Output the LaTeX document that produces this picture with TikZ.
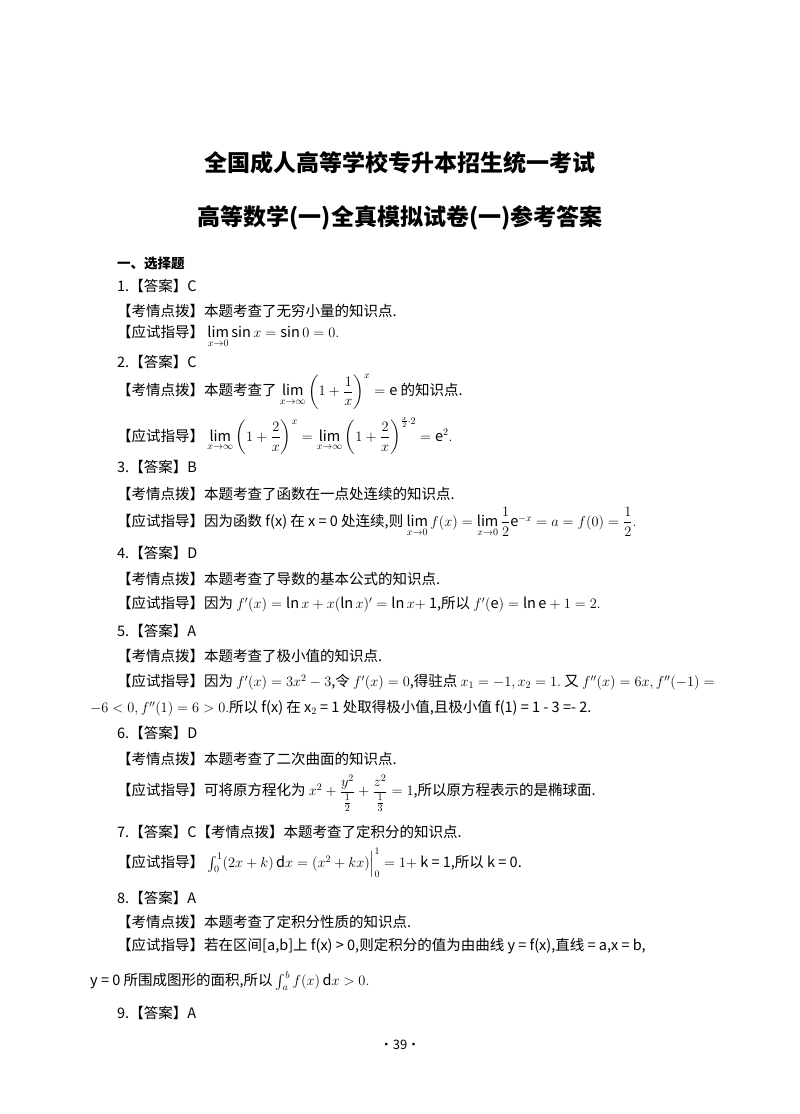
\documentclass[tikz,border=0pt]{standalone}
\usepackage{fontspec}
\usepackage{amsmath}
\setmainfont{Noto Sans CJK SC}
\begin{document}
\begin{tikzpicture}[x=1pt,y=-1pt,
  t/.style={anchor=west,inner sep=0pt,font=\fontsize{14.5}{16}\selectfont},
  h/.style={anchor=center,inner sep=0pt,font=\fontsize{23}{26}\selectfont\bfseries}]
\useasboundingbox[fill=white] (0,0) rectangle (800,1114);
\node[h] (t1) at (400,163) {全国成人高等学校专升本招生统一考试};
\node[h] (t2) at (400,218) {高等数学(一)全真模拟试卷(一)参考答案};
\node[t,font=\fontsize{13.5}{15}\selectfont\bfseries] (s) at (117,263) {一、选择题};
\node[t] (a1) at (117,286) {1.【答案】C};
\node[t] (b1) at (117,311) {【考情点拨】本题考查了无穷小量的知识点.};
\node[t] (c1) at (117,337) {【应试指导】 $\lim\limits_{x\to0}\sin x=\sin0=0.$};
\node[t] (a2) at (117,362) {2.【答案】C};
\node[t] (b2) at (117,392) {【考情点拨】本题考查了 $\lim\limits_{x\to\infty}\left(1+\dfrac1x\right)^x=\mathrm e$ 的知识点.};
\node[t] (c2) at (117,436) {【应试指导】 $\lim\limits_{x\to\infty}\left(1+\dfrac2x\right)^x=\lim\limits_{x\to\infty}\left(1+\dfrac2x\right)^{\frac x2\cdot2}=\mathrm e^2.$};
\node[t] (a3) at (117,467) {3.【答案】B};
\node[t] (b3) at (117,494) {【考情点拨】本题考查了函数在一点处连续的知识点.};
\node[t] (c3) at (117,522) {【应试指导】因为函数 f(x) 在 x = 0 处连续,则 $\lim\limits_{x\to0}f(x)=\lim\limits_{x\to0}\dfrac12\mathrm e^{-x}=a=f(0)=\dfrac12.$};
\node[t] (a4) at (117,553) {4.【答案】D};
\node[t] (b4) at (117,579) {【考情点拨】本题考查了导数的基本公式的知识点.};
\node[t] (c4) at (117,604) {【应试指导】因为 $f'(x)=\ln x+x(\ln x)'=\ln x+$ 1,所以 $f'(\mathrm e)=\ln\mathrm e+1=2.$};
\node[t] (a5) at (117,631) {5.【答案】A};
\node[t] (b5) at (117,656) {【考情点拨】本题考查了极小值的知识点.};
\node[t] (c5) at (117,682) {【应试指导】因为 $f'(x)=3x^2-3$,令 $f'(x)=0$,得驻点 $x_1=-1,x_2=1.$ 又 $f''(x)=6x,f''(-1)=$};
\node[t] (d5) at (90,708) {$-6<0,f''(1)=6>0.$所以 f(x) 在 x$_2$ = 1 处取得极小值,且极小值 f(1) = 1 - 3 =- 2.};
\node[t] (a6) at (117,733) {6.【答案】D};
\node[t] (b6) at (117,759) {【考情点拨】本题考查了二次曲面的知识点.};
\node[t] (c6) at (117,793) {【应试指导】可将原方程化为 $x^2+\dfrac{y^2}{\frac12}+\dfrac{z^2}{\frac13}=1$,所以原方程表示的是椭球面.};
\node[t] (a7) at (117,832) {7.【答案】C【考情点拨】本题考查了定积分的知识点.};
\node[t] (c7) at (117,863) {【应试指导】 $\int_0^1(2x+k)\,\mathrm dx=(x^2+kx)\Big|_0^1=1+$ k = 1,所以 k = 0.};
\node[t] (a8) at (117,898) {8.【答案】A};
\node[t] (b8) at (117,922) {【考情点拨】本题考查了定积分性质的知识点.};
\node[t] (c8) at (117,946) {【应试指导】若在区间[a,b]上 f(x) > 0,则定积分的值为由曲线 y = f(x),直线 = a,x = b,};
\node[t] (d8) at (90,981) {y = 0 所围成图形的面积,所以 $\int_a^b f(x)\,\mathrm dx>0.$};
\node[t] (a9) at (117,1013) {9.【答案】A};
\node[anchor=center,font=\fontsize{13}{15}\selectfont] (p) at (400,1045) {·39·};
\end{tikzpicture}
\end{document}
